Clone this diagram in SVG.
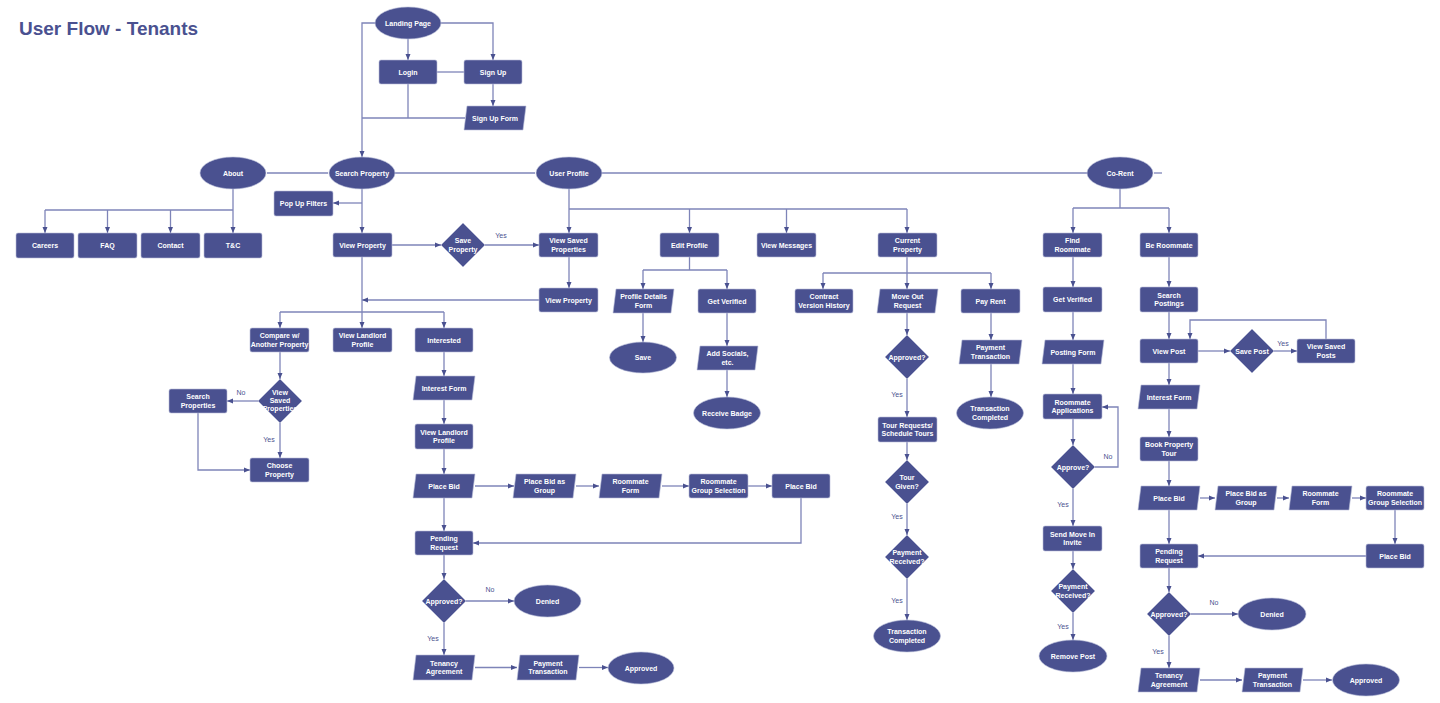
<svg xmlns="http://www.w3.org/2000/svg" width="1440" height="703" viewBox="0 0 1440 703">
<style>
.n{fill:#4a5190;stroke:#b9bdd9;stroke-width:0.6}
.t{fill:#fff;font-family:"Liberation Sans",Arial,sans-serif;font-weight:bold;font-size:7px;text-anchor:middle}
.l{fill:#4a5190;font-family:"Liberation Sans",Arial,sans-serif;font-size:7px;text-anchor:middle}
.c{fill:none;stroke:#7e84b8;stroke-width:1.3}
.a{marker-end:url(#ah)}
.title{fill:#4a5190;font-family:"Liberation Sans",Arial,sans-serif;font-weight:bold;font-size:19px}
</style>
<defs>
<marker id="ah" markerUnits="userSpaceOnUse" markerWidth="6" markerHeight="6" refX="6" refY="3" orient="auto">
<path d="M0,0.5 L6,3 L0,5.5 z" fill="#4a5190"/>
</marker>
</defs>
<rect width="1440" height="703" fill="#fff"/>
<text class="title" x="19" y="35">User Flow - Tenants</text>

<g id="connectors">
<path class="c a" d="M375,23 H362 V157"/>
<path class="c a" d="M441,23 H493 V60"/>
<path class="c a" d="M408,39 V60"/>
<path class="c" d="M437,72 H464"/>
<path class="c" d="M408,84 V118"/>
<path class="c" d="M362,118 H465"/>
<path class="c a" d="M493,84 V106"/>
<path class="c" d="M267,173 H328"/>
<path class="c" d="M395,173 H535"/>
<path class="c" d="M602,173 H1087"/>
<path class="c" d="M1154,173 H1162"/>
<path class="c a" d="M233,189 V233"/>
<path class="c" d="M45,210 H233"/>
<path class="c a" d="M45,210 V233"/>
<path class="c a" d="M107.5,210 V233"/>
<path class="c a" d="M170.5,210 V233"/>
<path class="c a" d="M362,189 V233"/>
<path class="c a" d="M362,203 H333"/>
<path class="c a" d="M392,245 H441"/>
<path class="c a" d="M485,245 H539"/>
<path class="c a" d="M569,189 V233"/>
<path class="c" d="M569,209 H907"/>
<path class="c a" d="M689.5,209 V233"/>
<path class="c a" d="M786.5,209 V233"/>
<path class="c a" d="M907,209 V233"/>
<path class="c a" d="M569,257 V288"/>
<path class="c a" d="M539,300 H362"/>
<path class="c" d="M362,257 V312"/>
<path class="c" d="M280,312 H444"/>
<path class="c a" d="M280,312 V328"/>
<path class="c a" d="M362,312 V328"/>
<path class="c a" d="M444,312 V328"/>
<path class="c a" d="M280,352 V379"/>
<path class="c a" d="M258,401 H227"/>
<path class="c a" d="M280,423 V458"/>
<path class="c a" d="M198,413 V470 H250"/>
<path class="c a" d="M444,352 V376"/>
<path class="c a" d="M444,400 V424"/>
<path class="c a" d="M444,449 V474"/>
<path class="c a" d="M475,486 H514"/>
<path class="c a" d="M576,486 H599"/>
<path class="c a" d="M662,486 H689"/>
<path class="c a" d="M748,486 H772"/>
<path class="c a" d="M801,498 V543 H473"/>
<path class="c a" d="M444,498 V531"/>
<path class="c a" d="M444,555 V579"/>
<path class="c a" d="M466,601 H514"/>
<path class="c a" d="M444,623 V655"/>
<path class="c a" d="M475,667.5 H517"/>
<path class="c a" d="M579,667.5 H608"/>
<path class="c" d="M689.5,257 V270"/>
<path class="c" d="M643,270 H727"/>
<path class="c a" d="M643,270 V289"/>
<path class="c a" d="M727,270 V289"/>
<path class="c a" d="M643,313 V342"/>
<path class="c a" d="M727,313 V346"/>
<path class="c a" d="M727,370 V397"/>
<path class="c a" d="M907,257 V289"/>
<path class="c" d="M823,273 H991"/>
<path class="c a" d="M823,273 V289"/>
<path class="c a" d="M991,273 V289"/>
<path class="c a" d="M907,313 V335"/>
<path class="c a" d="M907,379 V417"/>
<path class="c a" d="M907,442 V460"/>
<path class="c a" d="M907,504 V535"/>
<path class="c a" d="M907,579 V620"/>
<path class="c a" d="M991,313 V340"/>
<path class="c a" d="M991,364 V397"/>
<path class="c" d="M1120,189 V208"/>
<path class="c" d="M1073,208 H1169"/>
<path class="c a" d="M1073,208 V233"/>
<path class="c a" d="M1169,208 V233"/>
<path class="c a" d="M1073,257 V287"/>
<path class="c a" d="M1073,312 V340"/>
<path class="c a" d="M1073,364 V394"/>
<path class="c a" d="M1073,419 V445"/>
<path class="c a" d="M1095,467 H1118 V407 H1102"/>
<path class="c a" d="M1073,489 V526"/>
<path class="c a" d="M1073,551 V569"/>
<path class="c a" d="M1073,613 V640"/>
<path class="c a" d="M1169,257 V287"/>
<path class="c a" d="M1169,312 V339"/>
<path class="c a" d="M1198,351 H1230"/>
<path class="c a" d="M1274,351 H1297"/>
<path class="c a" d="M1326,339 V320 H1190 V339"/>
<path class="c a" d="M1169,363 V385"/>
<path class="c a" d="M1169,409 V437"/>
<path class="c a" d="M1169,461 V486"/>
<path class="c a" d="M1200,498 H1215"/>
<path class="c a" d="M1277,498 H1289"/>
<path class="c a" d="M1352,498 H1366"/>
<path class="c a" d="M1395,510 V544"/>
<path class="c a" d="M1366,556 H1198"/>
<path class="c a" d="M1169,510 V544"/>
<path class="c a" d="M1169,568 V592"/>
<path class="c a" d="M1191,614 H1238"/>
<path class="c a" d="M1169,636 V668"/>
<path class="c a" d="M1200,680 H1242"/>
<path class="c a" d="M1303,680 H1332"/>
<text class="l" x="501" y="237.5">Yes</text>
<text class="l" x="241" y="394.5">No</text>
<text class="l" x="269" y="441.5">Yes</text>
<text class="l" x="490" y="591.5">No</text>
<text class="l" x="433" y="640.5">Yes</text>
<text class="l" x="897" y="396.5">Yes</text>
<text class="l" x="897" y="518.5">Yes</text>
<text class="l" x="897" y="602.5">Yes</text>
<text class="l" x="1108" y="458.5">No</text>
<text class="l" x="1063" y="506.5">Yes</text>
<text class="l" x="1063" y="628.5">Yes</text>
<text class="l" x="1283" y="345.5">Yes</text>
<text class="l" x="1214" y="604.5">No</text>
<text class="l" x="1158" y="653.5">Yes</text>
</g>

<g id="landing"><ellipse class="n" cx="408" cy="23" rx="33" ry="16"/><text class="t" x="408" y="25.5">Landing Page</text></g>
<g id="login"><rect class="n" x="379" y="60" width="58" height="24" rx="2"/><text class="t" x="408" y="74.5">Login</text></g>
<g id="signup"><rect class="n" x="464" y="60" width="58" height="24" rx="2"/><text class="t" x="493" y="74.5">Sign Up</text></g>
<g id="signupform"><polygon class="n" points="467,106 526,106 523,130 464,130"/><text class="t" x="495" y="120.5">Sign Up Form</text></g>
<g id="search"><ellipse class="n" cx="362" cy="173" rx="33" ry="16"/><text class="t" x="362" y="175.5">Search Property</text></g>
<g id="about"><ellipse class="n" cx="233" cy="173" rx="33" ry="16"/><text class="t" x="233" y="175.5">About</text></g>
<g id="userprofile"><ellipse class="n" cx="569" cy="173" rx="33" ry="16"/><text class="t" x="569" y="175.5">User Profile</text></g>
<g id="corent"><ellipse class="n" cx="1120" cy="173" rx="33" ry="16"/><text class="t" x="1120" y="175.5">Co-Rent</text></g>
<g id="careers"><rect class="n" x="16" y="233" width="58" height="25" rx="2"/><text class="t" x="45" y="248">Careers</text></g>
<g id="faq"><rect class="n" x="78" y="233" width="59" height="25" rx="2"/><text class="t" x="107.5" y="248">FAQ</text></g>
<g id="contact"><rect class="n" x="141" y="233" width="59" height="25" rx="2"/><text class="t" x="170.5" y="248">Contact</text></g>
<g id="tc"><rect class="n" x="204" y="233" width="58" height="25" rx="2"/><text class="t" x="233" y="248">T&amp;C</text></g>
<g id="popup"><rect class="n" x="274" y="191" width="59" height="25" rx="2"/><text class="t" x="303.5" y="206">Pop Up Filters</text></g>
<g id="viewprop"><rect class="n" x="333" y="233" width="59" height="24" rx="2"/><text class="t" x="362.5" y="247.5">View Property</text></g>
<g id="saveprop"><polygon class="n" points="463,223 485,245 463,267 441,245"/><text class="t" x="463" y="243.25">Save</text><text class="t" x="463" y="251.75">Property</text></g>
<g id="viewsaved"><rect class="n" x="539" y="233" width="59" height="24" rx="2"/><text class="t" x="568.5" y="243.25">View Saved</text><text class="t" x="568.5" y="251.75">Properties</text></g>
<g id="viewprop2"><rect class="n" x="539" y="288" width="59" height="24" rx="2"/><text class="t" x="568.5" y="302.5">View Property</text></g>
<g id="compare"><rect class="n" x="250" y="328" width="59" height="24" rx="2"/><text class="t" x="279.5" y="338.25">Compare w/</text><text class="t" x="279.5" y="346.75">Another Property</text></g>
<g id="viewlandlord"><rect class="n" x="333" y="328" width="59" height="24" rx="2"/><text class="t" x="362.5" y="338.25">View Landlord</text><text class="t" x="362.5" y="346.75">Profile</text></g>
<g id="interested"><rect class="n" x="415" y="328" width="58" height="24" rx="2"/><text class="t" x="444" y="342.5">Interested</text></g>
<g id="viewsavedprops"><polygon class="n" points="280,379 302,401 280,423 258,401"/><text class="t" x="280" y="394.8">View</text><text class="t" x="280" y="403.1">Saved</text><text class="t" x="280" y="411.4">Properties</text></g>
<g id="searchprops"><rect class="n" x="169" y="389" width="58" height="24" rx="2"/><text class="t" x="198" y="399.25">Search</text><text class="t" x="198" y="407.75">Properties</text></g>
<g id="choose"><rect class="n" x="250" y="458" width="59" height="24" rx="2"/><text class="t" x="279.5" y="468.25">Choose</text><text class="t" x="279.5" y="476.75">Property</text></g>
<g id="interestform"><polygon class="n" points="416,376 475,376 472,400 413,400"/><text class="t" x="444" y="390.5">Interest Form</text></g>
<g id="viewlandlord2"><rect class="n" x="415" y="424" width="58" height="25" rx="2"/><text class="t" x="444" y="434.75">View Landlord</text><text class="t" x="444" y="443.25">Profile</text></g>
<g id="placebid"><polygon class="n" points="416,474 475,474 472,498 413,498"/><text class="t" x="444" y="488.5">Place Bid</text></g>
<g id="pbgroup"><polygon class="n" points="516,474 576,474 573,498 513,498"/><text class="t" x="544.5" y="484.25">Place Bid as</text><text class="t" x="544.5" y="492.75">Group</text></g>
<g id="rmform"><polygon class="n" points="602,474 662,474 659,498 599,498"/><text class="t" x="630.5" y="484.25">Roommate</text><text class="t" x="630.5" y="492.75">Form</text></g>
<g id="rmgroup"><rect class="n" x="689" y="474" width="59" height="24" rx="2"/><text class="t" x="718.5" y="484.25">Roommate</text><text class="t" x="718.5" y="492.75">Group Selection</text></g>
<g id="placebid2"><rect class="n" x="772" y="474" width="58" height="24" rx="2"/><text class="t" x="801" y="488.5">Place Bid</text></g>
<g id="pending"><rect class="n" x="415" y="531" width="58" height="24" rx="2"/><text class="t" x="444" y="541.25">Pending</text><text class="t" x="444" y="549.75">Request</text></g>
<g id="approved1"><polygon class="n" points="444,579 466,601 444,623 422,601"/><text class="t" x="444" y="603.5">Approved?</text></g>
<g id="denied1"><ellipse class="n" cx="547.5" cy="601" rx="33.5" ry="16"/><text class="t" x="547.5" y="603.5">Denied</text></g>
<g id="tenancy1"><polygon class="n" points="416,655 475,655 472,680 413,680"/><text class="t" x="444" y="665.75">Tenancy</text><text class="t" x="444" y="674.25">Agreement</text></g>
<g id="paytx1"><polygon class="n" points="520,655 579,655 576,680 517,680"/><text class="t" x="548" y="665.75">Payment</text><text class="t" x="548" y="674.25">Transaction</text></g>
<g id="approvedend1"><ellipse class="n" cx="641" cy="668" rx="33" ry="16"/><text class="t" x="641" y="670.5">Approved</text></g>
<g id="editprofile"><rect class="n" x="660" y="233" width="59" height="24" rx="2"/><text class="t" x="689.5" y="247.5">Edit Profile</text></g>
<g id="viewmsg"><rect class="n" x="757" y="233" width="59" height="24" rx="2"/><text class="t" x="786.5" y="247.5">View Messages</text></g>
<g id="current"><rect class="n" x="878" y="233" width="59" height="24" rx="2"/><text class="t" x="907.5" y="243.25">Current</text><text class="t" x="907.5" y="251.75">Property</text></g>
<g id="profiledetails"><polygon class="n" points="616,289 674,289 671,313 613,313"/><text class="t" x="643.5" y="299.25">Profile Details</text><text class="t" x="643.5" y="307.75">Form</text></g>
<g id="getverified"><rect class="n" x="698" y="289" width="58" height="24" rx="2"/><text class="t" x="727" y="303.5">Get Verified</text></g>
<g id="save"><ellipse class="n" cx="643" cy="357.5" rx="33.5" ry="15.5"/><text class="t" x="643" y="360">Save</text></g>
<g id="addsocials"><polygon class="n" points="700,346 758,346 755,370 697,370"/><text class="t" x="727.5" y="356.25">Add Socials,</text><text class="t" x="727.5" y="364.75">etc.</text></g>
<g id="badge"><ellipse class="n" cx="727" cy="413" rx="33.5" ry="16"/><text class="t" x="727" y="415.5">Receive Badge</text></g>
<g id="contract"><rect class="n" x="795" y="289" width="58" height="24" rx="2"/><text class="t" x="824" y="299.25">Contract</text><text class="t" x="824" y="307.75">Version History</text></g>
<g id="moveout"><polygon class="n" points="880,289 938,289 935,313 877,313"/><text class="t" x="907.5" y="299.25">Move Out</text><text class="t" x="907.5" y="307.75">Request</text></g>
<g id="payrent"><rect class="n" x="961" y="289" width="59" height="24" rx="2"/><text class="t" x="990.5" y="303.5">Pay Rent</text></g>
<g id="approved2"><polygon class="n" points="907,335 929,357 907,379 885,357"/><text class="t" x="907" y="359.5">Approved?</text></g>
<g id="tour"><rect class="n" x="878" y="417" width="59" height="25" rx="2"/><text class="t" x="907.5" y="427.75">Tour Requests/</text><text class="t" x="907.5" y="436.25">Schedule Tours</text></g>
<g id="tourgiven"><polygon class="n" points="907,460 929,482 907,504 885,482"/><text class="t" x="907" y="480.25">Tour</text><text class="t" x="907" y="488.75">Given?</text></g>
<g id="payrecv"><polygon class="n" points="907,535 929,557 907,579 885,557"/><text class="t" x="907" y="555.25">Payment</text><text class="t" x="907" y="563.75">Received?</text></g>
<g id="txcomp"><ellipse class="n" cx="907" cy="636" rx="33.5" ry="16"/><text class="t" x="907" y="634.25">Transaction</text><text class="t" x="907" y="642.75">Completed</text></g>
<g id="paytx2"><polygon class="n" points="962,340 1022,340 1019,364 959,364"/><text class="t" x="990.5" y="350.25">Payment</text><text class="t" x="990.5" y="358.75">Transaction</text></g>
<g id="txcomp2"><ellipse class="n" cx="990" cy="413" rx="33.5" ry="16"/><text class="t" x="990" y="411.25">Transaction</text><text class="t" x="990" y="419.75">Completed</text></g>
<g id="findrm"><rect class="n" x="1043" y="233" width="59" height="24" rx="2"/><text class="t" x="1072.5" y="243.25">Find</text><text class="t" x="1072.5" y="251.75">Roommate</text></g>
<g id="bermm"><rect class="n" x="1140" y="233" width="58" height="24" rx="2"/><text class="t" x="1169" y="247.5">Be Roommate</text></g>
<g id="getverified2"><rect class="n" x="1043" y="287" width="59" height="25" rx="2"/><text class="t" x="1072.5" y="302">Get Verified</text></g>
<g id="postingform"><polygon class="n" points="1045,340 1104,340 1101,364 1042,364"/><text class="t" x="1073" y="354.5">Posting Form</text></g>
<g id="rmapps"><rect class="n" x="1043" y="394" width="59" height="25" rx="2"/><text class="t" x="1072.5" y="404.75">Roommate</text><text class="t" x="1072.5" y="413.25">Applications</text></g>
<g id="approve"><polygon class="n" points="1073,445 1095,467 1073,489 1051,467"/><text class="t" x="1073" y="469.5">Approve?</text></g>
<g id="sendmove"><rect class="n" x="1043" y="526" width="59" height="25" rx="2"/><text class="t" x="1072.5" y="536.75">Send Move In</text><text class="t" x="1072.5" y="545.25">Invite</text></g>
<g id="payrecv2"><polygon class="n" points="1073,569 1095,591 1073,613 1051,591"/><text class="t" x="1073" y="589.25">Payment</text><text class="t" x="1073" y="597.75">Received?</text></g>
<g id="removepost"><ellipse class="n" cx="1073" cy="656" rx="34" ry="16"/><text class="t" x="1073" y="658.5">Remove Post</text></g>
<g id="searchpost"><rect class="n" x="1140" y="287" width="58" height="25" rx="2"/><text class="t" x="1169" y="297.75">Search</text><text class="t" x="1169" y="306.25">Postings</text></g>
<g id="viewpost"><rect class="n" x="1140" y="339" width="58" height="24" rx="2"/><text class="t" x="1169" y="353.5">View Post</text></g>
<g id="savepost"><polygon class="n" points="1252,329 1274,351 1252,373 1230,351"/><text class="t" x="1252" y="353.5">Save Post</text></g>
<g id="viewsavedposts"><rect class="n" x="1297" y="339" width="58" height="24" rx="2"/><text class="t" x="1326" y="349.25">View Saved</text><text class="t" x="1326" y="357.75">Posts</text></g>
<g id="interestform2"><polygon class="n" points="1141,385 1200,385 1197,409 1138,409"/><text class="t" x="1169" y="399.5">Interest Form</text></g>
<g id="booktour"><rect class="n" x="1140" y="437" width="58" height="24" rx="2"/><text class="t" x="1169" y="447.25">Book Property</text><text class="t" x="1169" y="455.75">Tour</text></g>
<g id="placebid3"><polygon class="n" points="1141,486 1200,486 1197,510 1138,510"/><text class="t" x="1169" y="500.5">Place Bid</text></g>
<g id="pbgroup2"><polygon class="n" points="1218,486 1277,486 1274,510 1215,510"/><text class="t" x="1246" y="496.25">Place Bid as</text><text class="t" x="1246" y="504.75">Group</text></g>
<g id="rmform2"><polygon class="n" points="1292,486 1352,486 1349,510 1289,510"/><text class="t" x="1320.5" y="496.25">Roommate</text><text class="t" x="1320.5" y="504.75">Form</text></g>
<g id="rmgroup2"><rect class="n" x="1366" y="486" width="58" height="24" rx="2"/><text class="t" x="1395" y="496.25">Roommate</text><text class="t" x="1395" y="504.75">Group Selection</text></g>
<g id="placebid4"><rect class="n" x="1366" y="544" width="58" height="24" rx="2"/><text class="t" x="1395" y="558.5">Place Bid</text></g>
<g id="pending2"><rect class="n" x="1140" y="544" width="58" height="24" rx="2"/><text class="t" x="1169" y="554.25">Pending</text><text class="t" x="1169" y="562.75">Request</text></g>
<g id="approved3"><polygon class="n" points="1169,592 1191,614 1169,636 1147,614"/><text class="t" x="1169" y="616.5">Approved?</text></g>
<g id="denied2"><ellipse class="n" cx="1272" cy="614" rx="34" ry="16"/><text class="t" x="1272" y="616.5">Denied</text></g>
<g id="tenancy2"><polygon class="n" points="1141,668 1200,668 1197,692 1138,692"/><text class="t" x="1169" y="678.25">Tenancy</text><text class="t" x="1169" y="686.75">Agreement</text></g>
<g id="paytx3"><polygon class="n" points="1245,668 1303,668 1300,692 1242,692"/><text class="t" x="1272.5" y="678.25">Payment</text><text class="t" x="1272.5" y="686.75">Transaction</text></g>
<g id="approvedend2"><ellipse class="n" cx="1366" cy="680" rx="33.5" ry="16"/><text class="t" x="1366" y="682.5">Approved</text></g>
</svg>
